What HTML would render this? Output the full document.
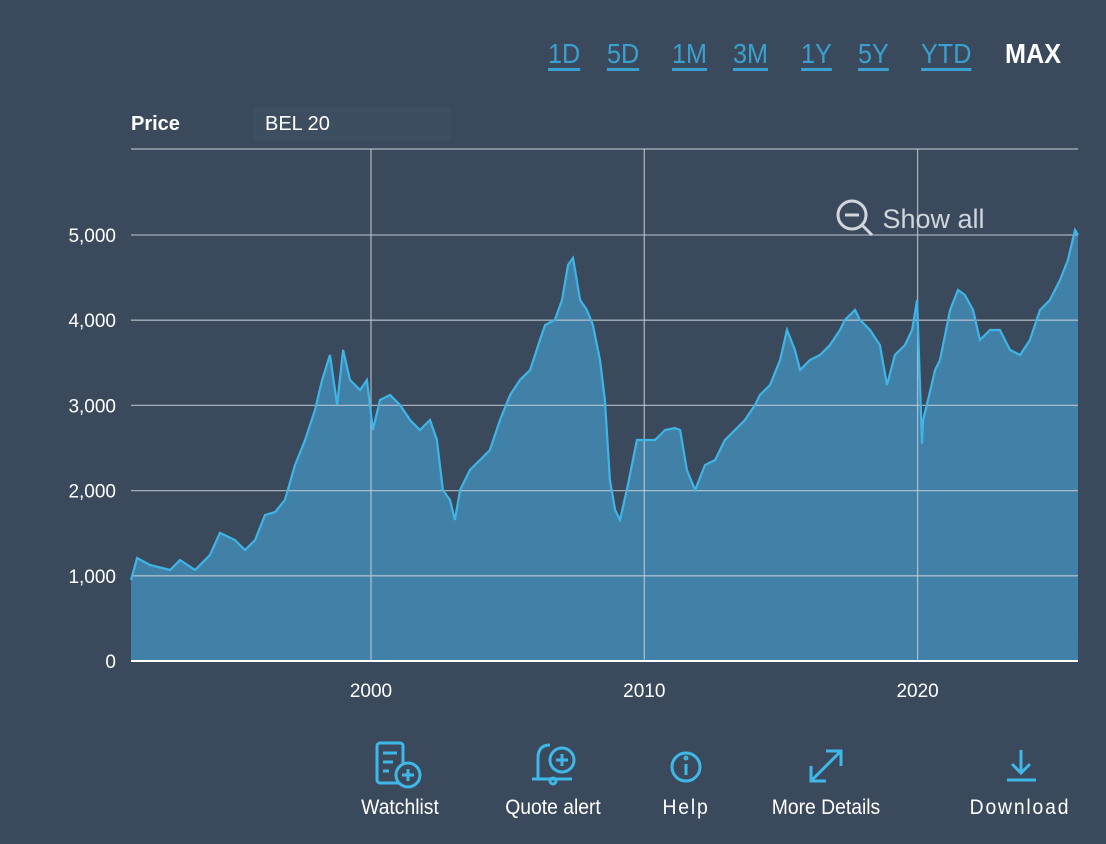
<!DOCTYPE html>
<html><head><meta charset="utf-8"><style>
body{margin:0;width:1106px;height:844px;background:#3a4a5c;font-family:"Liberation Sans",sans-serif;overflow:hidden;position:relative}
.rng{position:absolute;top:38px;font-size:28px;color:#3aa0cf;text-decoration:underline;text-underline-offset:5px;text-decoration-thickness:3px;transform:scaleX(0.9);transform-origin:left}
.btn{position:absolute;top:796px;color:#fff;font-size:21px;text-align:center;transform:translateX(-50%) scaleX(0.92);white-space:nowrap}
</style></head><body>
<span class="rng" style="left:548px">1D</span>
<span class="rng" style="left:607px">5D</span>
<span class="rng" style="left:672px">1M</span>
<span class="rng" style="left:733px">3M</span>
<span class="rng" style="left:801px">1Y</span>
<span class="rng" style="left:858px">5Y</span>
<span class="rng" style="left:921px">YTD</span>
<span class="rng" style="left:1005px;color:#fff;text-decoration:none;font-weight:bold">MAX</span>
<div style="position:absolute;left:131px;top:113px;color:#fff;font-weight:bold;font-size:20px">Price</div>
<div style="position:absolute;left:253px;top:107px;width:197px;height:34px;background:#3e4e61;color:#fff;font-size:20px;line-height:34px;padding-left:12px;box-sizing:border-box">BEL 20</div>
<svg id="c" width="1106" height="844" style="position:absolute;left:0;top:0"></svg>
<div style="position:absolute;left:835px;top:204px;color:#d0d6dc;font-size:27px">
<svg width="40" height="40" style="vertical-align:middle;margin-top:-8px"><circle cx="17" cy="18" r="14" fill="none" stroke="#d0d6dc" stroke-width="3"/><line x1="10" y1="18" x2="24" y2="18" stroke="#d0d6dc" stroke-width="3"/><line x1="27" y1="28" x2="37" y2="38" stroke="#d0d6dc" stroke-width="3"/></svg> Show all</div>
<svg width="1106" height="844" style="position:absolute;left:0;top:0;pointer-events:none">
<g stroke="#3fb8e8" stroke-width="3" fill="none">
<rect x="377" y="743" width="26" height="40" rx="3"/><line x1="383" y1="753" x2="397" y2="753"/><line x1="383" y1="762" x2="393" y2="762"/><line x1="383" y1="771" x2="389" y2="771"/><circle cx="408" cy="775" r="12" fill="#3a4a5c"/><line x1="408" y1="769" x2="408" y2="781"/><line x1="402" y1="775" x2="414" y2="775"/>
<path d="M538 778 L538 758 Q538 745 550 745 M532 779 L572 779"/><circle cx="553" cy="781" r="3"/><circle cx="562" cy="760" r="12" fill="#3a4a5c"/><line x1="562" y1="754" x2="562" y2="766"/><line x1="556" y1="760" x2="568" y2="760"/>
<circle cx="686" cy="767" r="14"/><line x1="686" y1="764" x2="686" y2="775"/><circle cx="686" cy="758" r="1"/>
<line x1="811" y1="781" x2="841" y2="751"/><path d="M826 751 L841 751 L841 766 M811 766 L811 781 L826 781"/>
<line x1="1021" y1="750" x2="1021" y2="773"/><path d="M1012 764 L1021 773 L1030 764"/><line x1="1007" y1="780" x2="1036" y2="780"/>
</g></svg>
<div class="btn" style="left:400px">Watchlist</div>
<div class="btn" style="left:553px">Quote alert</div>
<div class="btn" style="left:686px;letter-spacing:2px">Help</div>
<div class="btn" style="left:826px">More Details</div>
<div class="btn" style="left:1020px;letter-spacing:2px">Download</div>
<script>
const years=[1991.22,1991.44,1991.91,1992.65,1993.01,1993.56,1994.11,1994.47,1995.02,1995.39,1995.76,1996.12,1996.49,1996.85,1997.22,1997.59,1997.95,1998.21,1998.5,1998.76,1998.98,1999.23,1999.6,1999.85,2000.07,2000.33,2000.7,2001.06,2001.43,2001.79,2002.16,2002.41,2002.63,2002.89,2003.07,2003.26,2003.62,2003.99,2004.35,2004.72,2005.09,2005.45,2005.82,2006.18,2006.37,2006.73,2006.99,2007.21,2007.39,2007.65,2007.9,2008.12,2008.38,2008.56,2008.74,2008.93,2009.11,2009.4,2009.73,2010.03,2010.39,2010.76,2011.12,2011.31,2011.56,2011.86,2012.22,2012.59,2012.95,2013.32,2013.68,2014.05,2014.23,2014.6,2014.97,2015.22,2015.51,2015.7,2016.06,2016.43,2016.79,2017.16,2017.34,2017.71,2017.89,2018.26,2018.62,2018.88,2019.17,2019.54,2019.8,2019.98,2020.16,2020.2,2020.38,2020.64,2020.82,2021.19,2021.48,2021.73,2022.03,2022.28,2022.65,2023.01,2023.38,2023.75,2024.11,2024.48,2024.84,2025.21,2025.5,2025.76,2025.87];
const values=[951,1209,1127,1068,1186,1068,1244,1503,1420,1303,1420,1714,1749,1890,2300,2594,2946,3298,3592,3005,3651,3298,3181,3298,2711,3064,3122,3005,2829,2711,2829,2594,2007,1890,1655,2007,2242,2359,2477,2829,3122,3298,3416,3768,3944,4003,4237,4648,4731,4237,4120,3944,3533,3064,2125,1773,1655,2066,2594,2594,2594,2711,2735,2711,2242,2007,2300,2359,2594,2711,2829,3005,3122,3240,3533,3885,3651,3416,3533,3592,3709,3885,4003,4120,4003,3885,3709,3240,3592,3709,3885,4237,2550,2829,3064,3416,3533,4120,4355,4296,4120,3768,3885,3885,3651,3592,3768,4120,4237,4472,4707,5059,5000];
const yTicks=[0,1000,2000,3000,4000,5000];
const yTickLabels=["0","1,000","2,000","3,000","4,000","5,000"];
const xTicks=[2000,2010,2020];
const X0=131,X1=1078,Y0=661,PTOP=149;
const xs=y=>371+(y-2000)*27.33;
const ys=v=>Y0-v*0.08520;
const svgEl=document.getElementById('c');
const NS='http://www.w3.org/2000/svg';
function mk(t,a){const e=document.createElementNS(NS,t);for(const k in a)e.setAttribute(k,a[k]);svgEl.appendChild(e);return e;}
const border=mk('line',{x1:X0,x2:X1,y1:PTOP,y2:PTOP,stroke:'#9aa4ae','stroke-width':1.5});


let d='M'+xs(years[0])+' '+Y0;
years.forEach((y,i)=>{d+=' L'+xs(y).toFixed(1)+' '+ys(values[i]).toFixed(1);});
const area=mk('path',{d:d+' L'+xs(years[years.length-1])+' '+Y0+' Z',fill:'#4281a7'});


yTicks.forEach((v,i)=>{
  if(v>0){const g=mk('line',{x1:X0,x2:X1,y1:ys(v),y2:ys(v),stroke:'#c8d0d8','stroke-opacity':0.75,'stroke-width':1.3});
  
  }
  const t=mk('text',{x:116,y:ys(v)+7,'text-anchor':'end',fill:'#fff','font-size':19,'font-family':'Liberation Sans, sans-serif'});
  t.textContent=yTickLabels[i];
  
  
});
xTicks.forEach(y=>{
  const g=mk('line',{x1:xs(y),x2:xs(y),y1:PTOP,y2:Y0,stroke:'#c8d0d8','stroke-opacity':0.75,'stroke-width':1.3});
  
  
  const t=mk('text',{x:xs(y),y:697,'text-anchor':'middle',fill:'#fff','font-size':19,'font-family':'Liberation Sans, sans-serif'});
  t.textContent=y;
  
  
});
let ld='';years.forEach((y,i)=>{ld+=(i?' L':'M')+xs(y).toFixed(1)+' '+ys(values[i]).toFixed(1);});
const pline=mk('path',{d:ld,fill:'none',stroke:'#3fb4e6','stroke-width':2.2});


const ax=mk('line',{x1:X0,x2:X1,y1:Y0,y2:Y0,stroke:'#fff','stroke-width':2});


</script>
</body></html>
